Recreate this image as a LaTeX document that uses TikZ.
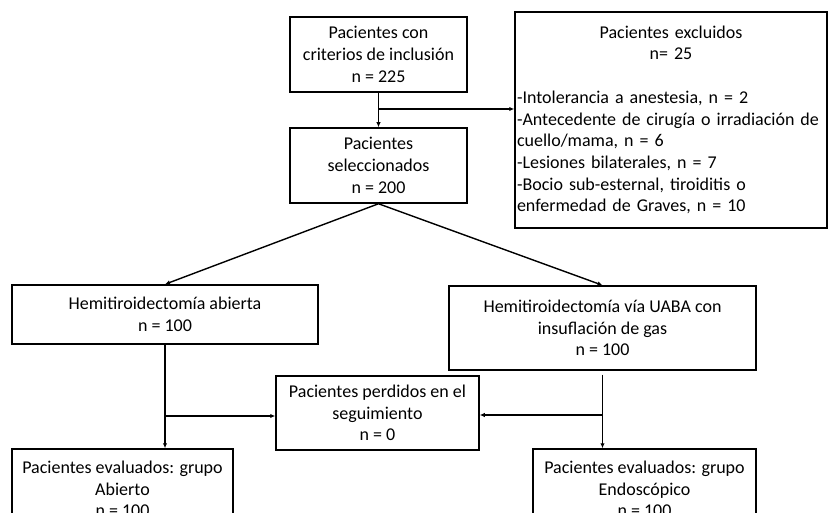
\documentclass[tikz,border=0pt]{standalone}
\usepackage{fontspec}
\setmainfont{Carlito}
\usetikzlibrary{arrows.meta}
\begin{document}
\begin{tikzpicture}[x=1pt,y=-1pt,
  box/.style={draw, line width=1.5pt, align=center, inner sep=2pt,
    font=\fontsize{18}{21.7}\selectfont},
  arr/.style={line width=1.4pt, -{Latex[length=5pt,width=4.5pt]}}]
\clip (0,0) rectangle (831,513);
\fill[white] (0,0) rectangle (831,513);
% nodes
\node[box, minimum width=177pt, minimum height=75pt] (incl) at (378.5,54.5)
  {Pacientes con\\criterios de inclusión\\n = 225};
\node[box, minimum width=177pt, minimum height=75pt] (sel) at (378.5,165.5)
  {Pacientes\\seleccionados\\n = 200};
\node[box, minimum width=312pt, minimum height=216pt, text width=308pt, inner xsep=1.5pt, align=left] (excl) at (671,120)
  {{\centering Pacientes excluidos\\ n= 25\par}\vspace{21.7pt}%
   -Intolerancia a anestesia, n = 2\\
   -Antecedente de cirugía o irradiación de\\
   cuello/mama, n = 6\\
   -Lesiones bilaterales, n = 7\\
   -Bocio sub-esternal, tiroiditis o\\
   enfermedad de Graves, n = 10};
\node[box, minimum width=306pt, minimum height=59pt] (left) at (165,314.5)
  {Hemitiroidectomía abierta\\n = 100};
\node[box, minimum width=307pt, minimum height=84pt] (right) at (602.5,328)
  {Hemitiroidectomía vía UABA con\\insuflación de gas\\n = 100};
\node[box, minimum width=203pt, minimum height=74pt] (lost) at (377.5,413)
  {Pacientes perdidos en el\\seguimiento\\n = 0};
\node[box, minimum width=221pt, minimum height=80pt] (ll) at (122.5,489)
  {Pacientes evaluados: grupo\\Abierto\\n = 100};
\node[box, minimum width=223pt, minimum height=80pt] (lr) at (644.5,489)
  {Pacientes evaluados: grupo\\Endoscópico\\n = 100};
% connectors
\draw[arr] (incl.south) -- (sel.north);
\coordinate (b1) at (378.5,109);
\draw[arr] (b1) -- (b1 -| excl.west);
\draw[arr] (sel.south) -- (left.north);
\draw[arr] (sel.south) -- (right.north);
\draw[arr] (left.south) -- (left.south |- ll.north);
\coordinate (b2) at (165,416);
\draw[arr] (b2) -- (b2 -| lost.west);
\draw[arr, shorten <=4pt] (right.south) -- (right.south |- lr.north);
\coordinate (b3) at (602.5,415);
\draw[arr] (b3) -- (b3 -| lost.east);
\end{tikzpicture}
\end{document}
